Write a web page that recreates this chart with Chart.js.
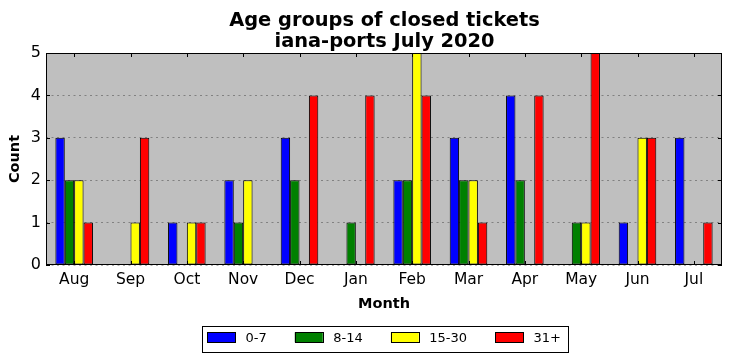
<!DOCTYPE html>
<html><head><meta charset="utf-8">
<script src="https://cdn.jsdelivr.net/npm/chart.js@4.4.0/dist/chart.umd.min.js"></script>
<style>html,body{margin:0;padding:0;background:#fff;overflow:hidden;}</style>
</head><body>
<canvas id="c" width="732" height="361" style="width:732px;height:361px;display:block;"></canvas>
<script>
const months = ['Aug','Sep','Oct','Nov','Dec','Jan','Feb','Mar','Apr','May','Jun','Jul'];
const age0_7   = [3,0,1,2,3,0,2,3,4,0,1,3];
const age8_14  = [2,0,0,1,2,1,2,2,2,1,0,0];
const age15_30 = [2,1,1,2,0,0,5,2,0,1,3,0];
const age31p   = [1,3,1,0,4,4,4,1,4,5,3,1];
const seriesLabels = ['0-7','8-14','15-30','31+'];
const seriesColors = ['#0000ff','#008000','#ffff00','#ff0000'];
const yMin = 0, yMax = 5, yStep = 1;
const titleLines = ['Age groups of closed tickets','iana-ports July 2020'];
const xTitle = 'Month';
const yTitle = 'Count';

const FONT = "'DejaVu Sans', sans-serif";

const decor = {
  id: 'decor',
  beforeDraw(chart) {
    const {ctx, chartArea: a} = chart;
    ctx.save();
    ctx.fillStyle = '#bfbfbf';
    ctx.fillRect(a.left, a.top, a.right - a.left, a.bottom - a.top);
    ctx.restore();
  },
  afterDraw(chart) {
    const {ctx, chartArea: a, scales} = chart;
    ctx.save();
    ctx.strokeStyle = '#000';
    ctx.lineWidth = 1;
    ctx.beginPath();
    scales.x.ticks.forEach((t, i) => {
      const x = Math.round(scales.x.getPixelForTick(i)) + 0.5;
      ctx.moveTo(x, a.bottom); ctx.lineTo(x, a.bottom - 4);
      ctx.moveTo(x, a.top); ctx.lineTo(x, a.top + 4);
    });
    scales.y.ticks.forEach(t => {
      const y = Math.round(scales.y.getPixelForValue(t.value)) + 0.5;
      ctx.moveTo(a.left, y); ctx.lineTo(a.left + 4, y);
      ctx.moveTo(a.right, y); ctx.lineTo(a.right - 4, y);
    });
    ctx.stroke();
    ctx.strokeRect(Math.round(a.left) + 0.5, Math.round(a.top) + 0.5,
                   Math.round(a.right - a.left) - 1, Math.round(a.bottom - a.top) - 1);

    // title
    const cx = (a.left + a.right) / 2;
    ctx.fillStyle = '#000';
    ctx.font = 'bold 19.4px ' + FONT;
    ctx.textAlign = 'center';
    ctx.textBaseline = 'alphabetic';
    ctx.fillText(titleLines[0], cx + 0.5, 26);
    ctx.fillText(titleLines[1], cx + 0.5, 46.7);

    // legend
    ctx.font = '13px ' + FONT;
    ctx.textAlign = 'left';
    const sw = 28, sh = 10, gapTxt = 10.5, gapItem = 28;
    const items = chart.data.datasets.map(d => ({label: d.label, color: d.backgroundColor, w: ctx.measureText(d.label).width}));
    let W = 0;
    items.forEach((it, i) => { W += sw + gapTxt + it.w + (i < items.length - 1 ? gapItem : 0); });
    const padL = 5, padR = 7;
    const fx0 = cx + 1 - (W + padL + padR) / 2;
    const fy0 = 326, fy1 = 352;
    ctx.fillStyle = '#fff';
    ctx.fillRect(fx0, fy0, W + padL + padR, fy1 - fy0);
    ctx.strokeRect(Math.round(fx0) + 0.5, fy0 + 0.5, Math.round(W + padL + padR), fy1 - fy0);
    let x = fx0 + padL;
    items.forEach(it => {
      ctx.fillStyle = it.color;
      ctx.fillRect(x, 332.3, sw, sh);
      ctx.strokeRect(Math.round(x) + 0.5, 332.5, sw, sh);
      ctx.fillStyle = '#000';
      ctx.fillText(it.label, x + sw + gapTxt, 342.3);
      x += sw + gapTxt + it.w + gapItem;
    });
    ctx.restore();
  }
};

const seriesData = [age0_7, age8_14, age15_30, age31p];

new Chart(document.getElementById('c'), {
  type: 'bar',
  data: {
    labels: months,
    datasets: seriesData.map((d, i) => ({
      label: seriesLabels[i],
      data: d,
      backgroundColor: seriesColors[i],
      borderColor: '#000',
      borderWidth: 1,
      borderSkipped: false,
      categoryPercentage: 0.667,
      barPercentage: 1.0
    }))
  },
  options: {
    responsive: false,
    animation: false,
    devicePixelRatio: 1,
    layout: {padding: {left: 0, right: 10, top: 53, bottom: 0}},
    plugins: {legend: {display: false}, title: {display: false}, tooltip: {enabled: false}},
    scales: {
      x: {
        grid: {display: false, drawTicks: false},
        border: {display: false},
        ticks: {color: '#000', font: {family: FONT, size: 15.5}, padding: 6, maxRotation: 0, autoSkip: false},
        title: {display: true, text: xTitle, color: '#000', font: {family: FONT, size: 14.5, weight: 'bold'}, padding: {top: 0, bottom: 48}},
        afterFit(s) { s.height = 96; }
      },
      y: {
        min: yMin, max: yMax,
        grid: {color: 'rgba(0,0,0,0.32)', lineWidth: 1, drawTicks: false},
        border: {display: false, dash: [2, 3.5]},
        ticks: {stepSize: yStep, color: '#000', font: {family: FONT, size: 16}, padding: 5},
        title: {display: true, text: yTitle, color: '#000', font: {family: FONT, size: 14.5, weight: 'bold'}, padding: {top: 6.8, bottom: 0}},
        afterFit(s) { s.width = 46; }
      }
    }
  },
  plugins: [decor]
});
</script>
</body></html>
